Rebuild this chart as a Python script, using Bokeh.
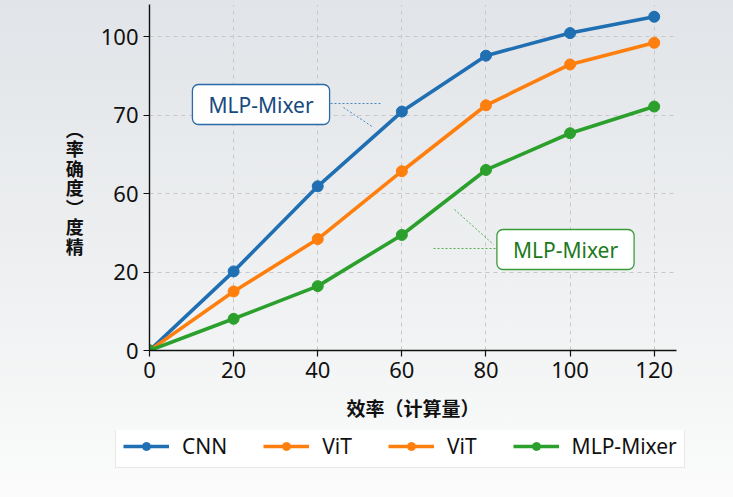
from bokeh.plotting import figure
from bokeh.models import (Range1d, FixedTicker, Label, Legend, LegendItem)
from bokeh.embed import file_html
from bokeh.resources import INLINE

# ---- data ----
x_vals = [0, 20, 40, 60, 80, 100, 120]
cnn = [0, 25.2, 52.3, 76.1, 93.9, 101.1, 106.3]
vit = [0, 18.8, 35.5, 57.1, 78.1, 91.1, 98.0]
mlp = [0, 10.1, 20.5, 36.8, 57.5, 69.2, 77.7]
y_tick_pos = [0, 25, 50, 75, 100]
y_tick_labels = ["0", "20", "60", "70", "100"]
x_ticks = [0, 20, 40, 60, 80, 100, 120]
legend_labels = ["CNN", "ViT", "ViT", "MLP-Mixer"]
y_label_chars = ["︵", "率", "确", "度", "︶", "度", "精"]
x_label = "效率（计算量）"
note_text = "MLP-Mixer"

BLUE = "#1f6fb2"
ORANGE = "#ff7f0e"
GREEN = "#2ca02c"

W = 733
H1, H2 = 430, 67
FL, FR, FT, FB = 149, 676, 4, 350  # frame edges in px
XMAX = 125.3
YMAX = 110.2
XS = (FR - FL) / XMAX
YS = (FB - FT) / YMAX


def dx(px):
    return (px - FL) / XS


def dy(py):
    return (FB - py) / YS


p = figure(width=W, height=H1, output_backend="svg", toolbar_location=None,
           x_range=Range1d(0, XMAX), y_range=Range1d(0, YMAX),
           min_border_left=FL, min_border_right=W - FR,
           min_border_top=FT, min_border_bottom=H1 - FB)

p.background_fill_color = None
p.border_fill_color = None
p.outline_line_color = None
p.styles = {"background": "linear-gradient(to bottom, #e1e4e8 0%, #eef0f1 64%, #f7f8f8 100%)"}

# axes
for ax in (p.xaxis[0], p.yaxis[0]):
    ax.axis_line_color = "#111111"
    ax.axis_line_width = 1.4
    ax.major_tick_line_color = "#111111"
    ax.major_tick_line_width = 1.2
    ax.major_tick_out = 6
    ax.major_tick_in = 0
    ax.minor_tick_line_color = None
    ax.major_label_text_font = "Noto Sans"
    ax.major_label_text_font_size = "22px"
    ax.major_label_text_color = "#111111"
    ax.major_label_standoff = 5

p.xaxis.ticker = FixedTicker(ticks=x_ticks)
p.yaxis.ticker = FixedTicker(ticks=y_tick_pos)
p.yaxis.major_label_overrides = {t: l for t, l in zip(y_tick_pos, y_tick_labels)}
p.xaxis.axis_label = x_label
p.xaxis.axis_label_text_font = "Noto Sans CJK SC"
p.xaxis.axis_label_text_font_style = "bold"
p.xaxis.axis_label_text_font_size = "19px"
p.xaxis.axis_label_text_color = "#111111"
p.xaxis.axis_label_standoff = 13

# y label: upright stacked characters
p.yaxis.axis_label = "\n".join([" "] + y_label_chars)
p.yaxis.axis_label_orientation = "horizontal"
p.yaxis.axis_label_text_font = "Noto Sans CJK SC"
p.yaxis.axis_label_text_font_style = "bold"
p.yaxis.axis_label_text_font_size = "18px"
p.yaxis.axis_label_text_line_height = 0.75
p.yaxis.axis_label_text_color = "#111111"
p.yaxis.axis_label_standoff = 14

# grid
p.xgrid.ticker = FixedTicker(ticks=x_ticks)
p.ygrid.ticker = FixedTicker(ticks=y_tick_pos)
for g in (p.xgrid[0], p.ygrid[0]):
    g.grid_line_color = "#c8c8c8"
    g.grid_line_dash = "4 4"
    g.grid_line_width = 1

# series
series_colors = []
for ys, col in ((cnn, BLUE), (vit, ORANGE), (mlp, GREEN)):
    p.line(x_vals, ys, line_color=col, line_width=3.6)
    p.scatter(x_vals, ys, size=11, fill_color=col, line_color=col)
    series_colors.append(col)

# annotation leaders
p.line([dx(330), dx(382)], [dy(103), dy(103)], line_color=BLUE, line_width=1,
       line_dash="2 2", line_alpha=0.8)
p.line([dx(343), dx(373)], [dy(107), dy(127)], line_color=BLUE, line_width=1,
       line_dash="2 2", line_alpha=0.8)
p.line([dx(433), dx(495)], [dy(248), dy(248)], line_color=GREEN, line_width=1,
       line_dash="2 2", line_alpha=0.8)
p.line([dx(454), dx(493)], [dy(209), dy(244)], line_color=GREEN, line_width=1,
       line_dash="2 2", line_alpha=0.8)

# annotation boxes
p.add_layout(Label(x=dx(260.5), y=dy(104), text=note_text, text_align="center",
                   text_baseline="middle", text_font="Noto Sans",
                   text_font_size="21px", text_color="#174a80",
                   background_fill_color="white", background_fill_alpha=0.95,
                   border_line_color="#2a6aa6", border_line_width=1.3,
                   border_radius=6, padding=(16, 6)))
p.add_layout(Label(x=dx(565), y=dy(249), text=note_text, text_align="center",
                   text_baseline="middle", text_font="Noto Sans",
                   text_font_size="21px", text_color="#1c7a1c",
                   background_fill_color="white", background_fill_alpha=0.95,
                   border_line_color="#3a9a3a", border_line_width=1.3,
                   border_radius=6, padding=(16, 6)))

# ---- legend strip: a second root whose frame covers it entirely ----
lf = figure(width=W, height=H2, output_backend="svg", toolbar_location=None,
            x_range=Range1d(0, 1), y_range=Range1d(0, 1),
            x_axis_type=None, y_axis_type=None,
            min_border=0, min_border_left=0, min_border_right=0,
            min_border_top=0, min_border_bottom=0)
lf.background_fill_color = None
lf.border_fill_color = None
lf.outline_line_color = None
lf.styles = {"background": "linear-gradient(to bottom, #f7f8f8 0%, #fbfbfb 100%)"}

leg_r = []
for col in series_colors:
    # proxy glyphs for the legend keys, placed outside the visible range
    l2 = lf.line(x=[-2, -1], y=[-2, -1], line_color=col, line_width=3.6)
    c2 = lf.scatter(x=[-2], y=[-2], size=11, fill_color=col, line_color=col)
    leg_r.append([l2, c2])

items = [
    LegendItem(label=legend_labels[0], renderers=leg_r[0]),
    LegendItem(label=legend_labels[1], renderers=leg_r[1]),
    LegendItem(label=legend_labels[2], renderers=leg_r[1]),
    LegendItem(label=legend_labels[3], renderers=leg_r[2]),
]
legend = Legend(items=items, orientation="horizontal", location=(115, 497 - 468),
                glyph_width=46, glyph_height=20, label_standoff=13,
                spacing=36, padding=7, margin=0,
                label_text_font="Noto Sans", label_text_font_size="21px",
                label_text_color="#111111", label_height=22,
                background_fill_color="white", background_fill_alpha=0.9,
                border_line_color="#cfcfcf", border_line_width=1)
lf.add_layout(legend, "center")

open("out.html", "w").write(file_html([p, lf], INLINE))
